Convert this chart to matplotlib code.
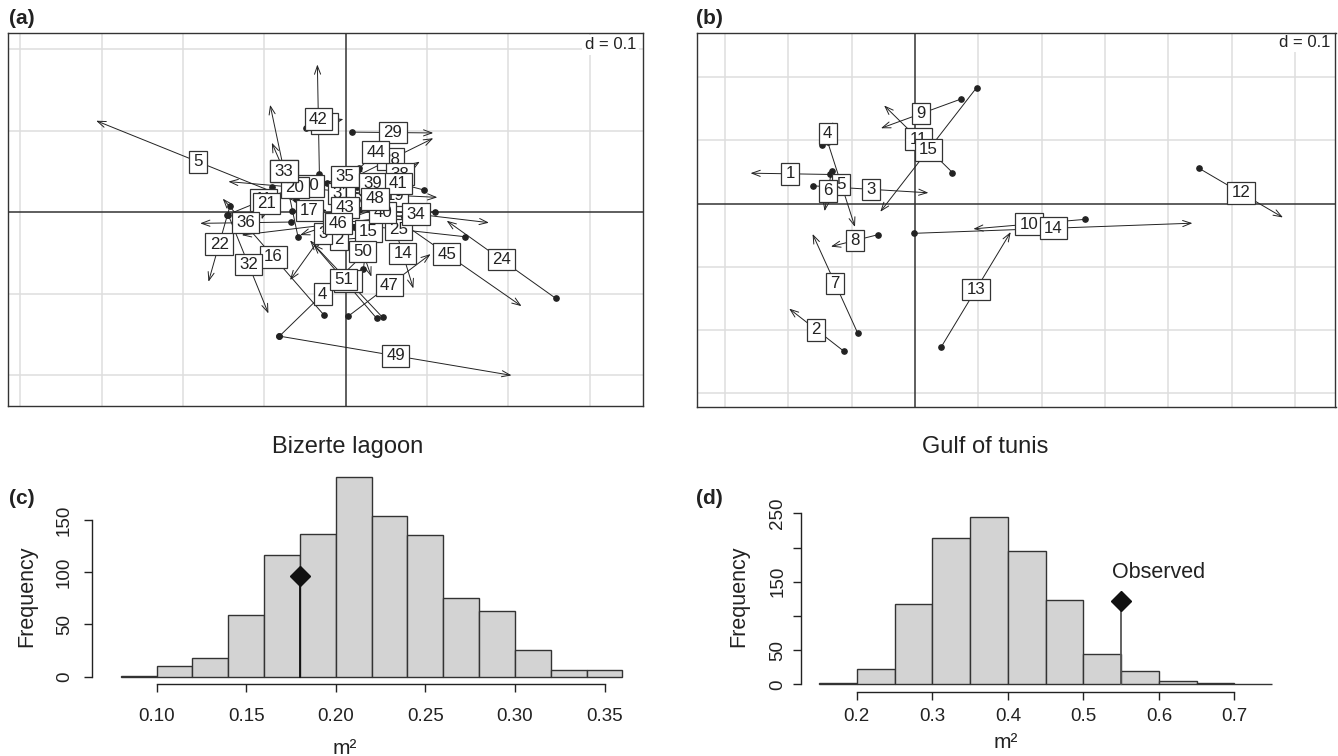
import matplotlib
matplotlib.use("Agg")
import matplotlib.pyplot as plt
from matplotlib.patches import FancyArrowPatch, Rectangle
import numpy as np

plt.rcParams['font.family'] = ['Liberation Sans', 'DejaVu Sans']

# ---- panel (a): Bizerte lagoon, procrustes-style arrows (dot -> arrow head)
a_labels = ["2", "3", "4", "5", "10", "11", "14", "15", "16", "17", "18", "19", "20",
            "21", "22", "24", "25", "26", "27", "28", "29", "31", "32", "33", "34",
            "35", "36", "37", "38", "39", "40", "41", "42", "43", "44", "45", "46",
            "47", "48", "49", "50", "51"]
a_x0 = [0.0218, 0.0134, -0.0816, -0.056, -0.050, -0.1464, 0.0567, 0.0215, -0.0268,
        -0.0665, 0.0338, 0.0078, 0.0195, -0.091, -0.1426, 0.2582, 0.1464, -0.0587,
        -0.049, 0.003, 0.008, 0.0072, -0.1443, -0.0608, -0.0036, -0.0235, -0.0669,
        0.0453, 0.042, 0.0563, 0.0715, 0.0961, -0.0325, 0.0134, 0.0166, 0.032,
        0.1095, 0.003, 0.0166, -0.0816, 0.010, 0.038]
a_y0 = [-0.0315, 0.0311, -0.1523, 0.011, 0.027, -0.0037, -0.0078, -0.0704, -0.1265,
        0.0012, 0.0025, 0.0229, 0.0233, 0.0303, 0.007, -0.106, -0.0303, -0.0309,
        0.103, 0.039, 0.098, 0.0303, -0.0041, 0.0156, 0.0081, 0.036, -0.0123,
        -0.1294, 0.031, 0.0401, -0.0066, 0.027, 0.0467, 0.0147, 0.0536, 0.0123,
        0.0004, -0.1278, 0.0025, -0.1523, -0.018, -0.1306]
a_x1 = [-0.0378, -0.0686, 0.0248, -0.307, -0.038, -0.0563, 0.083, 0.0338, -0.1513,
        -0.0231, -0.0563, 0.1125, -0.1444, -0.1034, -0.1689, 0.124, -0.0174, -0.0931,
        -0.003, 0.1075, 0.1075, -0.0174, -0.0952, -0.091, 0.176, 0.0215, -0.1791,
        -0.0399, 0.091, 0.0097, 0.019, 0.033, -0.035, -0.0153, 0.0568, 0.216,
        -0.128, 0.1042, 0.0551, 0.2037, 0.0314, -0.044]
a_y1 = [-0.0365, -0.0835, -0.0491, 0.112, 0.037, 0.0332, -0.0938, 0.0238, 0.0164,
        0.002, -0.0283, 0.018, 0.0373, -0.009, -0.0856, -0.0107, -0.0123, 0.1315,
        0.114, 0.0905, 0.097, 0.0156, -0.1245, 0.085, -0.0131, 0.0508, -0.0139,
        -0.0393, 0.0618, 0.0303, 0.0049, 0.0434, 0.181, -0.0033, 0.093, -0.1155,
        -0.0283, -0.0516, 0.0295, -0.2004, -0.0794, -0.0348]

# ---- panel (b): Gulf of tunis
b_labels = [str(i) for i in range(1, 16)]
b_x0 = [-0.134, -0.113, -0.161, -0.147, -0.138, -0.132, -0.091, -0.058, 0.072,
        0.268, 0.059, 0.448, 0.041, -0.001, 0.097]
b_y0 = [0.046, -0.233, 0.028, 0.092, 0.097, 0.052, -0.204, -0.049, 0.165,
        -0.025, 0.049, 0.056, -0.227, -0.047, 0.183]
b_x1 = [-0.260, -0.199, 0.021, -0.129, -0.095, -0.143, -0.162, -0.133, -0.054,
        0.092, -0.049, 0.581, 0.151, 0.438, -0.055]
b_y1 = [0.048, -0.166, 0.017, 0.129, -0.037, -0.012, -0.048, -0.068, 0.119,
        -0.040, 0.155, -0.022, -0.045, -0.031, -0.013]

# ---- panel (c): permutation histogram, Bizerte lagoon
c_edges = [0.08, 0.10, 0.12, 0.14, 0.16, 0.18, 0.20, 0.22, 0.24, 0.26, 0.28, 0.30,
           0.32, 0.34, 0.36]
c_counts = [1, 10, 18, 59, 116, 137, 191, 154, 136, 75, 63, 26, 6, 6]
c_obs_x = 0.18
c_obs_y = 96
c_xticks = [0.10, 0.15, 0.20, 0.25, 0.30, 0.35]
c_xtick_labels = ["0.10", "0.15", "0.20", "0.25", "0.30", "0.35"]
c_yticks = [0, 50, 100, 150]
c_ytick_labels = ["0", "50", "100", "150"]

# ---- panel (d): permutation histogram, Gulf of tunis
d_edges = [0.15, 0.20, 0.25, 0.30, 0.35, 0.40, 0.45, 0.50, 0.55, 0.60, 0.65, 0.70, 0.75]
d_counts = [2, 22, 118, 214, 245, 195, 124, 44, 19, 5, 2, 1]
d_obs_x = 0.55
d_obs_y = 122
d_xticks = [0.2, 0.3, 0.4, 0.5, 0.6, 0.7]
d_xtick_labels = ["0.2", "0.3", "0.4", "0.5", "0.6", "0.7"]
d_yticks = [0, 50, 100, 150, 200, 250]
d_ytick_labels = ["0", "50", "", "150", "", "250"]

W, H = 1338, 756
fig = plt.figure(figsize=(W / 100, H / 100), dpi=100)


def px_axes(left, top, right, bottom):
    return fig.add_axes([left / W, 1 - bottom / H, (right - left) / W, (bottom - top) / H])


def px_text(x, y, s, **kw):
    fig.text(x / W, 1 - y / H, s, **kw)


def draw_match(ax, labels, x0, y0, x1, y1, xlim, ylim, box_px):
    ax.set_xlim(*xlim)
    ax.set_ylim(*ylim)
    ax.set_xticks([])
    ax.set_yticks([])
    for s in ax.spines.values():
        s.set_color('#333333')
        s.set_linewidth(1.0)
    # grid every d = 0.1, starting from the origin
    for g in np.arange(-1.0, 1.01, 0.1):
        if xlim[0] < g < xlim[1] and abs(g) > 1e-9:
            ax.axvline(g, color='#dedede', lw=1.1, zorder=0)
        if ylim[0] < g < ylim[1] and abs(g) > 1e-9:
            ax.axhline(g, color='#dedede', lw=1.1, zorder=0)
    ax.axvline(0, color='#333333', lw=1.1, zorder=1)
    ax.axhline(0, color='#333333', lw=1.1, zorder=1)
    ax.text(xlim[1] - 0.008, ylim[1] - 0.015, "d = 0.1", ha='right', va='center',
            fontsize=12, color='#222222', zorder=2,
            bbox=dict(boxstyle='square,pad=0.15', fc='white', ec='none'))

    ppu = box_px / (xlim[1] - xlim[0])
    for i in range(len(labels)):
        arr = FancyArrowPatch((x0[i], y0[i]), (x1[i], y1[i]),
                              arrowstyle='->,head_length=0.6,head_width=0.22',
                              mutation_scale=10, lw=0.7, color='#222222',
                              shrinkA=0, shrinkB=0, zorder=2)
        ax.add_patch(arr)
    ax.plot(x0, y0, 'o', ms=3.8, color='#222222', zorder=2.5, ls='none')

    for i, lab in enumerate(labels):
        mx = (x0[i] + x1[i]) / 2
        my = (y0[i] + y1[i]) / 2
        w = (len(lab) * 9.4 + 8.6) / ppu
        h = 21.5 / ppu
        ax.add_patch(Rectangle((mx - w / 2, my - h / 2), w, h, fc='white',
                               ec='#333333', lw=0.9, zorder=3 + 2 * i))
        ax.text(mx, my, lab, ha='center', va='center', fontsize=12.2,
                color='#222222', zorder=4 + 2 * i)


def draw_hist(ax, edges, counts, obs_x, obs_y, xlim, ylim, xticks, xtick_labels,
              yticks, ytick_labels, xpad, ypad, obs_color):
    edges = np.array(edges)
    ax.bar(edges[:-1], counts, width=np.diff(edges), align='edge',
           color='#d3d3d3', edgecolor='#333333', lw=1.0, zorder=2)
    ax.plot([obs_x, obs_x], [0, obs_y], color=obs_color, lw=1.3, zorder=3)
    ax.plot([obs_x], [obs_y], marker='D', ms=10, color='#111111', zorder=4)
    ax.set_xlim(*xlim)
    ax.set_ylim(*ylim)
    ax.spines['top'].set_visible(False)
    ax.spines['right'].set_visible(False)
    ax.spines['left'].set_bounds(yticks[0], yticks[-1])
    ax.spines['bottom'].set_bounds(xticks[0], xticks[-1])
    for s in ('left', 'bottom'):
        ax.spines[s].set_linewidth(1.0)
        ax.spines[s].set_color('#222222')
    ax.set_xticks(xticks)
    ax.set_xticklabels(xtick_labels, fontsize=13.5, color='#222222')
    ax.set_yticks(yticks)
    ax.set_yticklabels(ytick_labels, fontsize=13.5, rotation=90, va='center',
                       color='#222222')
    ax.tick_params(axis='both', length=6, width=1.0, color='#222222')
    ax.tick_params(axis='x', pad=xpad)
    ax.tick_params(axis='y', pad=ypad)
    ax.patch.set_alpha(0)


# panels (a) and (b)
ax_a = px_axes(8.3, 32.7, 642.7, 406.0)
draw_match(ax_a, a_labels, a_x0, a_y0, a_x1, a_y1, (-0.415, 0.365), (-0.238, 0.220),
           642.7 - 8.3)
ax_b = px_axes(696.7, 32.7, 1335.5, 406.7)
draw_match(ax_b, b_labels, b_x0, b_y0, b_x1, b_y1, (-0.345, 0.664), (-0.321, 0.270),
           1335.5 - 696.7)

# panels (c) and (d)
ax_c = px_axes(91.7, 469.2, 644.0, 684.0)
draw_hist(ax_c, c_edges, c_counts, c_obs_x, c_obs_y, (0.0638, 0.372), (-7, 198.6),
          c_xticks, c_xtick_labels, c_yticks, c_ytick_labels, 11, 7.4, '#111111')
ax_d = px_axes(800.9, 509.9, 1290.3, 691.7)
draw_hist(ax_d, d_edges, d_counts, d_obs_x, d_obs_y, (0.126, 0.774), (-10.8, 255),
          d_xticks, d_xtick_labels, d_yticks, d_ytick_labels, 5.5, 4.5, '#555555')
ax_d.text(0.600, 164, "Observed", ha='center', va='center', fontsize=15.5, color='#222222')

# titles, axis labels and panel letters
px_text(347.5, 447, "Bizerte lagoon", ha='center', va='center', fontsize=17, color='#222222')
px_text(985, 447, "Gulf of tunis", ha='center', va='center', fontsize=17, color='#222222')
px_text(344.6, 748, "m²", ha='center', va='center', fontsize=15, color='#222222')
px_text(1006, 743, "m²", ha='center', va='center', fontsize=15, color='#222222')
px_text(27, 596.7, "Frequency", ha='center', va='center', rotation=90, fontsize=15.5,
        color='#222222')
px_text(739, 596.7, "Frequency", ha='center', va='center', rotation=90, fontsize=15.5,
        color='#222222')
px_text(9, 19, "(a)", ha='left', va='center', fontsize=15, fontweight='bold', color='#222222')
px_text(696, 19, "(b)", ha='left', va='center', fontsize=15, fontweight='bold', color='#222222')
px_text(9, 499, "(c)", ha='left', va='center', fontsize=15, fontweight='bold', color='#222222')
px_text(696, 499, "(d)", ha='left', va='center', fontsize=15, fontweight='bold', color='#222222')

fig.savefig("out.png", dpi=100)
